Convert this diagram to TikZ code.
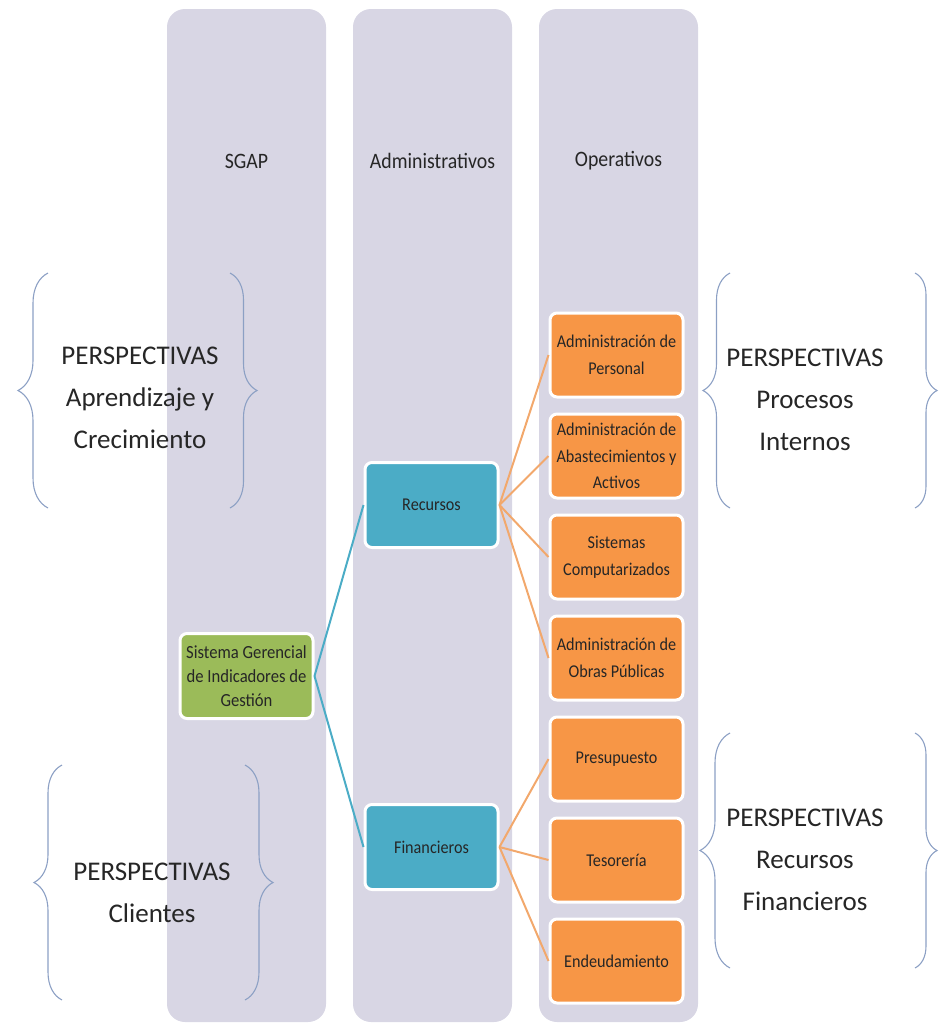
\documentclass[tikz,border=0pt]{standalone}
\usepackage{fontspec}
\setmainfont{Carlito}
\newfontfamily\estrecha[FakeStretch=0.9]{Carlito}
\usetikzlibrary{positioning,decorations.pathreplacing}
\definecolor{lila}{RGB}{216,214,228}
\definecolor{verde}{RGB}{155,187,89}
\definecolor{azul}{RGB}{75,172,198}
\definecolor{naranja}{RGB}{247,150,70}
\definecolor{llave}{RGB}{140,160,196}
\definecolor{ramanar}{RGB}{242,168,108}

\begin{document}
\begin{tikzpicture}[x=1pt,y=-1pt,
    columna/.style={fill=lila, rounded corners=18pt},
    titulo/.style={font=\estrecha\fontsize{22}{26}\selectfont, text=black!85},
    caja/.style={draw=white, line width=3pt, rounded corners=7pt, minimum width=133pt,
        minimum height=85pt, inner sep=2pt, align=center,
        font=\estrecha\fontsize{18}{26.5}\selectfont, text=black!85},
    perspectiva/.style={align=center, font=\fontsize{27}{42}\selectfont, text=black!85},
    llaves/.style={draw=llave, line width=1.1pt, decorate, decoration={brace, amplitude=#1}},
    rama/.style={line width=2pt}]
    \useasboundingbox (0,0) rectangle (938,1023);
    % columnas
    \fill[columna] (167,9) rectangle (326,1022);
    \fill[columna] (353,9) rectangle (512,1022);
    \fill[columna] (539,9) rectangle (698,1022);
    \node[titulo] (sgap) at (246.5,161) {SGAP};
    \node[titulo] (adm) at (432.5,161) {Administrativos};
    \node[titulo] (oper) at (618.5,161) {Operativos};

    % perspectivas
    \draw[llaves=30pt] (48,508) -- (48,273);
    \draw[llaves=27pt] (230,273) -- (230,508);
    \node[perspectiva] (aprend) at (140,398) {PERSPECTIVAS\\Aprendizaje y\\Crecimiento};
    \draw[llaves=28pt] (62,1000) -- (62,765);
    \draw[llaves=28pt] (245,765) -- (245,1000);
    \node[perspectiva] (client) at (152,893) {PERSPECTIVAS\\Clientes};
    \draw[llaves=27pt] (730,508) -- (730,273);
    \draw[llaves=22pt] (915,273) -- (915,508);
    \node[perspectiva] (proc) at (805,400) {PERSPECTIVAS\\Procesos\\Internos};
    \draw[llaves=30pt] (730,968) -- (730,733);
    \draw[llaves=22pt] (915,733) -- (915,968);
    \node[perspectiva] (finan) at (805,860) {PERSPECTIVAS\\Recursos\\Financieros};

    % cajas
    \node[caja, fill=verde, font=\estrecha\fontsize{18.5}{24}\selectfont] (sgi) at (246.5,676)
        {Sistema Gerencial\\de Indicadores de\\Gesti\'on};
    \node[caja, fill=azul] (rec) at (431.5,505) {Recursos};
    \node[caja, fill=azul] (fin) at (431.5,847) {Financieros};
    \node[caja, fill=naranja, minimum height=84pt] (op1) at (616.5,355) {Administraci\'on de\\Personal};
    \node[caja, fill=naranja, minimum height=84pt, below=14pt of op1] (op2) {Administraci\'on de\\Abastecimientos y\\Activos};
    \node[caja, fill=naranja, minimum height=84pt, below=14pt of op2] (op3) {Sistemas\\Computarizados};
    \node[caja, fill=naranja, minimum height=84pt, below=14pt of op3] (op4) {Administraci\'on de\\Obras P\'ublicas};
    \node[caja, fill=naranja, minimum height=84pt, below=14pt of op4] (op5) {Presupuesto};
    \node[caja, fill=naranja, minimum height=84pt, below=14pt of op5] (op6) {Tesorer\'ia};
    \node[caja, fill=naranja, minimum height=84pt, below=14pt of op6] (op7) {Endeudamiento};

    % ramas
    \draw[rama, azul] (sgi.east) -- (rec.west);
    \draw[rama, azul] (sgi.east) -- (fin.west);
    \draw[rama, ramanar] (rec.east) -- (op1.west);
    \draw[rama, ramanar] (rec.east) -- (op2.west);
    \draw[rama, ramanar] (rec.east) -- (op3.west);
    \draw[rama, ramanar] (rec.east) -- (op4.west);
    \draw[rama, ramanar] (fin.east) -- (op5.west);
    \draw[rama, ramanar] (fin.east) -- (op6.west);
    \draw[rama, ramanar] (fin.east) -- (op7.west);
\end{tikzpicture}
\end{document}
